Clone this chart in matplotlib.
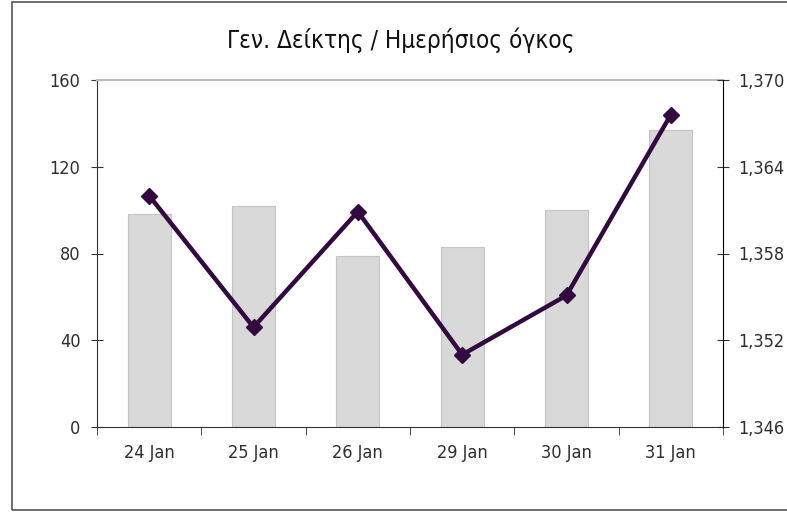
import matplotlib
matplotlib.use("Agg")
import matplotlib.pyplot as plt
from matplotlib.patches import Rectangle
import numpy as np

# data
dates = ["24 Jan", "25 Jan", "26 Jan", "29 Jan", "30 Jan", "31 Jan"]
volume = [98, 102, 79, 83, 100, 137]
index_vals = [1362.0, 1352.9, 1360.9, 1351.0, 1355.1, 1367.6]
left_ticks = [0, 40, 80, 120, 160]
right_ticks = [1346, 1352, 1358, 1364, 1370]
title = "Γεν. Δείκτης / Ημερήσιος όγκος"

plt.rcParams['font.family'] = ['DejaVu Sans']
plt.rcParams['font.stretch'] = 'condensed'
text_color = '#2e2e2e'

fig = plt.figure(figsize=(7.87, 5.12), dpi=100)
ax = fig.add_axes([97 / 787, 85 / 512, 626 / 787, 347 / 512])

# outer chart border
fig.patches.append(Rectangle((12 / 787, 2 / 512), 1.2, 508 / 512, transform=fig.transFigure,
                             fill=False, edgecolor='#555555', linewidth=1.2, zorder=0))

x = np.arange(len(dates))
ax.bar(x, volume, width=0.41, color='#d9d9d9', edgecolor='#c4c4c4', linewidth=0.8, zorder=2)
ax.set_xlim(-0.5, len(dates) - 0.5)
ax.set_ylim(0, 160)
ax.set_yticks(left_ticks)
ax.set_yticklabels([str(t) for t in left_ticks], fontsize=13, color=text_color)

ax.set_xticks(x)
ax.set_xticklabels(dates, fontsize=13, color=text_color)
ax.set_xticks(np.arange(-0.5, len(dates) + 0.5, 1), minor=True)
ax.tick_params(axis='x', which='major', length=0, pad=12)
ax.tick_params(axis='x', which='minor', length=6, direction='out', color='#333333')
ax.tick_params(axis='y', length=8, direction='inout', color='#333333', pad=8)

for s in ['left', 'bottom']:
    ax.spines[s].set_color('#333333')
ax.spines['top'].set_color('#bbbbbb')
ax.spines['top'].set_linewidth(1.5)
ax.spines['right'].set_visible(False)

ax2 = ax.twinx()
ax2.plot(x, index_vals, color='#330a40', linewidth=3.2, marker='D', markersize=8, zorder=5)
ax2.set_ylim(1346, 1370)
ax2.set_yticks(right_ticks)
ax2.set_yticklabels([f"{t:,}" for t in right_ticks], fontsize=13, color=text_color)
ax2.tick_params(axis='y', length=8, direction='inout', color='#333333', pad=7)
ax2.spines['right'].set_color('#000000')
for s in ['left', 'top', 'bottom']:
    ax2.spines[s].set_visible(False)

fig.text(401 / 787, 1 - 40 / 512, title, ha='center', va='center', fontsize=17.5, color='#111111')

fig.savefig("out.png", dpi=100)
